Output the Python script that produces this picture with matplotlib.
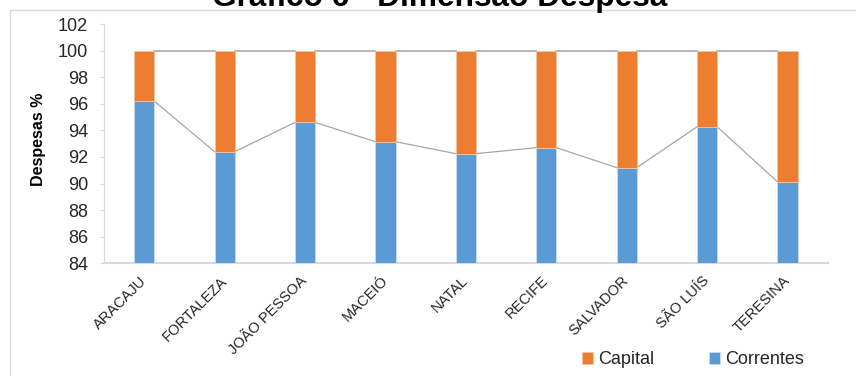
import matplotlib
matplotlib.use("Agg")
import numpy as np
from matplotlib import pyplot as plt
from matplotlib.patches import Rectangle

plt.rcParams['font.family'] = ['Liberation Sans', 'DejaVu Sans']

#####data
cidades = ['ARACAJU', 'FORTALEZA', 'JOÃO PESSOA', 'MACEIÓ', 'NATAL',
           'RECIFE', 'SALVADOR', 'SÃO LUÍS', 'TERESINA']
correntes = [96.2, 92.4, 94.6, 93.15, 92.25, 92.7, 91.2, 94.27, 90.13]
capital = [100 - c for c in correntes]
yticks = list(range(84, 103, 2))

azul = '#5b9bd5'
laranja = '#ed7d31'
cinza = '#a6a6a6'

fig = plt.figure(figsize=(8.56, 3.76), dpi=100)
ax = fig.add_axes([0.1215, 0.2997, 0.8455, 0.6363])

x = np.arange(len(cidades))
w = 0.25
ax.bar(x, correntes, w, bottom=0, color=azul, edgecolor='#c9dcef', linewidth=0.6,
       label='Correntes', zorder=3)
ax.bar(x, capital, w, bottom=correntes, color=laranja, edgecolor='#f6c3a0',
       linewidth=0.6, label='Capital', zorder=3)

####series lines between bars
for i in range(len(cidades) - 1):
    ax.plot([x[i] + w / 2, x[i + 1] - w / 2], [correntes[i], correntes[i + 1]],
            color=cinza, lw=0.9, zorder=2)
    tot_a = correntes[i] + capital[i]
    tot_b = correntes[i + 1] + capital[i + 1]
    ax.plot([x[i] + w / 2, x[i + 1] - w / 2], [tot_a, tot_b],
            color='#b8b8b8', lw=1.4, zorder=2)

ax.set_xlim(-0.5, len(cidades) - 0.5)
ax.set_ylim(84, 102)
ax.set_yticks(yticks)
ax.set_yticklabels([str(t) for t in yticks], fontsize=13, color='#262626')
ax.set_xticks(x)
ax.set_xticklabels(cidades, rotation=45, ha='right', va='center',
                   rotation_mode='anchor', fontsize=10.5, color='#262626')
ax.tick_params(axis='x', length=0, pad=11)
ax.tick_params(axis='y', length=2.9, color='#d9d9d9', width=0.8, pad=8.6)
for s in ['top', 'right']:
    ax.spines[s].set_visible(False)
for s in ['left', 'bottom']:
    ax.spines[s].set_color('#d9d9d9')
ax.spines['bottom'].set_linewidth(1.5)

ax.set_ylabel('Despesas %', fontsize=11.5, fontweight='bold')
ax.yaxis.set_label_coords(-0.080, 0.52)

####chart frame and title
fig.patches.append(Rectangle((10 / 856, -0.1), 1.2, 1 - 10 / 376 + 0.1,
                             transform=fig.transFigure, fill=False,
                             edgecolor='#d9d9d9', lw=1))
fig.text(440 / 856, 1 - 6 / 376, 'Gráfico 6 - Dimensão Despesa', ha='center',
         va='baseline', fontsize=22.8, fontweight='bold')

h, l = ax.get_legend_handles_labels()
fig.legend(h[::-1], l[::-1], loc='center', bbox_to_anchor=(693 / 856, 1 - 360 / 376),
           ncol=2, frameon=False, fontsize=13, handlelength=0.6, handleheight=0.6,
           columnspacing=3.0, handletextpad=0.3, labelcolor='#262626')

fig.savefig('out.png', dpi=100)
